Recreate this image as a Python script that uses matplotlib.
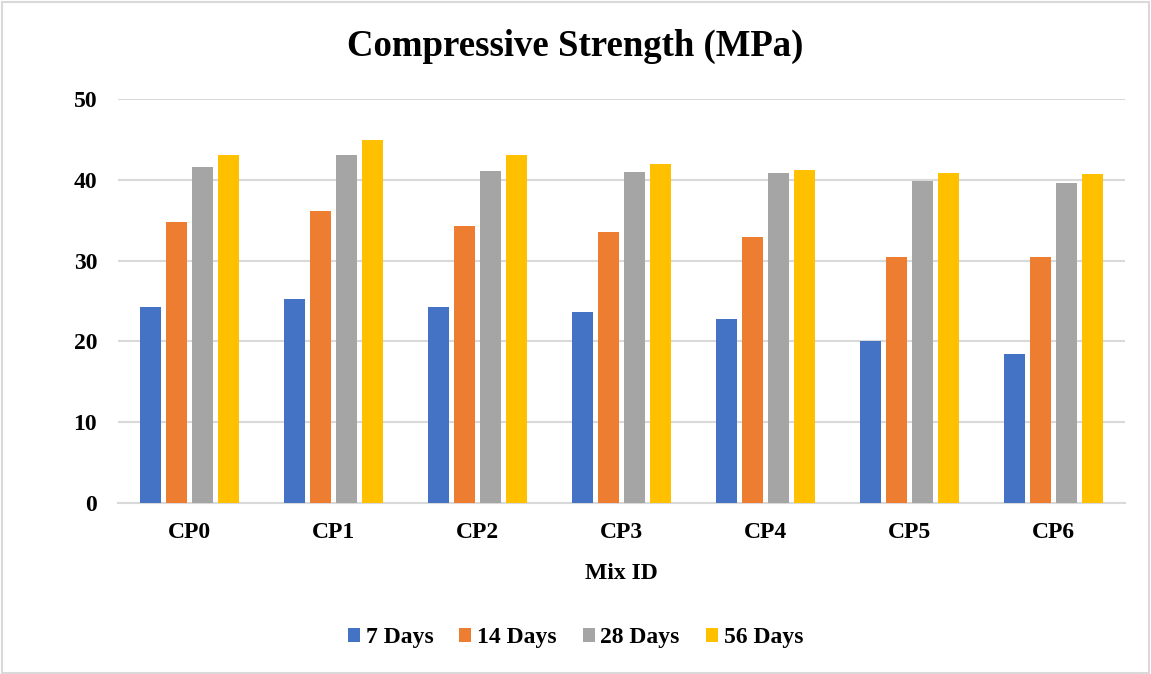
import matplotlib
matplotlib.use("Agg")
import matplotlib.pyplot as plt
from matplotlib.patches import Rectangle, Patch
import numpy as np

mixes = ["CP0", "CP1", "CP2", "CP3", "CP4", "CP5", "CP6"]
series_names = ["7 Days", "14 Days", "28 Days", "56 Days"]
days_7 = [24.3, 25.2, 24.3, 23.7, 22.8, 20.0, 18.4]
days_14 = [34.8, 36.1, 34.3, 33.5, 32.9, 30.5, 30.4]
days_28 = [41.6, 43.1, 41.1, 41.0, 40.8, 39.8, 39.6]
days_56 = [43.1, 44.9, 43.1, 42.0, 41.2, 40.8, 40.7]
y_ticks = [0, 10, 20, 30, 40, 50]

colors = ["#4472C4", "#ED7D31", "#A5A5A5", "#FFC000"]
serif = ["Liberation Serif", "DejaVu Serif"]
plt.rcParams["font.family"] = serif
plt.rcParams["font.weight"] = "bold"

fig = plt.figure(figsize=(11.51, 6.74), dpi=100)
ax = fig.add_axes([118 / 1151, 1 - 503 / 674, (1125 - 118) / 1151, (503 - 99) / 674])

x = np.arange(len(mixes))
width = 0.146
step = 0.181
all_series = [days_7, days_14, days_28, days_56]
for k, (vals, c, name) in enumerate(zip(all_series, colors, series_names)):
    offs = (k - 1.5) * step
    ax.bar(x + offs, vals, width=width, color=c, label=name, zorder=3)

ax.set_xlim(-0.5, len(mixes) - 0.5)
ax.set_ylim(0, 50)
ax.set_yticks(y_ticks)
ax.set_yticklabels([str(t) for t in y_ticks])
ax.set_xticks(x)
ax.set_xticklabels(mixes)
ax.tick_params(axis="both", length=0, labelsize=17, colors="black")
ax.tick_params(axis="y", pad=15)
ax.tick_params(axis="x", pad=14)
for lbl in ax.get_xticklabels() + ax.get_yticklabels():
    lbl.set_fontweight("bold")

ax.grid(axis="y", color="#D9D9D9", linewidth=1.5, zorder=0)
for s in ["top", "right", "left"]:
    ax.spines[s].set_visible(False)
ax.spines["bottom"].set_color("#D9D9D9")
ax.spines["bottom"].set_linewidth(1.5)

ax.set_xlabel("Mix ID", fontsize=17, fontweight="bold", labelpad=14)
fig.text(0.5, 1 - 46 / 674, "Compressive Strength (MPa)", ha="center", va="center",
         fontsize=26.5, fontweight="bold")

handles = [Patch(facecolor=c, label=n) for c, n in zip(colors, series_names)]
leg = fig.legend(handles=handles, loc="center", bbox_to_anchor=(0.5, 1 - 638 / 674),
                 ncol=4, frameon=False, fontsize=17, handlelength=0.5, handleheight=0.5,
                 handletextpad=0.25, columnspacing=1.1)
for t in leg.get_texts():
    t.set_fontweight("bold")

fig.patches.append(Rectangle((0.002, 0.002), 0.996, 0.995, transform=fig.transFigure,
                             fill=False, edgecolor="#D9D9D9", linewidth=1.5))

fig.savefig("out.png", dpi=100)
